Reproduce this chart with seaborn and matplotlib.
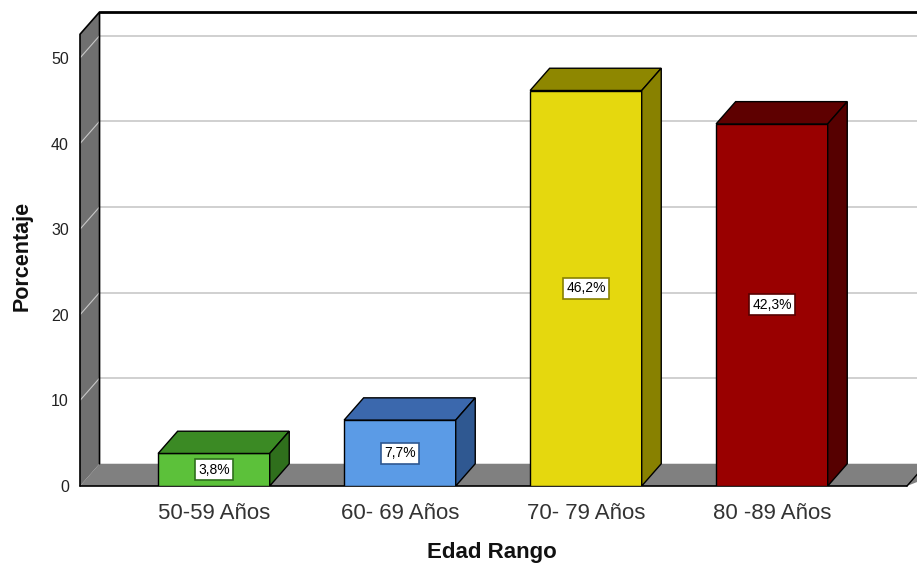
import matplotlib
matplotlib.use("Agg")
import matplotlib.pyplot as plt
import seaborn as sns
import pandas as pd

# Age groups and their share of the sample (%)
categories = ["50-59 Años", "60- 69 Años", "70- 79 Años", "80 -89 Años"]
percentages = [3.8, 7.7, 46.2, 42.3]
value_labels = ["3,8%", "7,7%", "46,2%", "42,3%"]
y_ticks = [0, 10, 20, 30, 40, 50]

# Face colours of each 3D bar: front, top, side
front_colors = ["#5cc13a", "#5b9be6", "#e5d80e", "#990000"]
top_colors = ["#3b8a24", "#3b68ad", "#8e8700", "#5e0000"]
side_colors = ["#2f6f1c", "#2f5891", "#888100", "#560000"]

sns.set_theme(style="white")
plt.rcParams["font.family"] = ["Liberation Sans", "DejaVu Sans"]

fig = plt.figure(figsize=(9.17, 5.66), dpi=100)
ax = fig.add_axes([80 / 917, 80 / 566, 837 / 917, 474 / 566])

df = pd.DataFrame({"Edad Rango": categories, "Porcentaje": percentages})
sns.barplot(data=df, x="Edad Rango", y="Porcentaje", hue="Edad Rango",
            palette=front_colors, saturation=1, width=0.6, edgecolor="black",
            linewidth=1.0, legend=False, ax=ax, zorder=5)

# Depth of the box (data units)
dx, dy = 0.105, 2.6
x0 = -0.72
x_floor_end = 3.726
ytop = 55.37
ax.set_xlim(x0, 3.78)
ax.set_ylim(0, ytop)

# Back-wall gridlines and their traces across the left wall
for v in y_ticks[1:]:
    ax.plot([x0 + dx, 4.0], [v + dy, v + dy], color="#c8c8c8", lw=1.2,
            zorder=1, clip_on=False)
    ax.plot([x0, x0 + dx], [v, v + dy], color="#c8c8c8", lw=0.8,
            zorder=3, clip_on=False)

# Floor slab
ax.fill([x0, x0 + dx, x_floor_end + dx + 0.2, x_floor_end],
        [0, dy, dy, 0], color="#808080", zorder=2, clip_on=False, lw=0)
ax.plot([x0, x_floor_end], [0, 0], color="black", lw=1.2, zorder=4, clip_on=False)
ax.plot([x_floor_end, x_floor_end + dx], [0, dy], color="black", lw=1.0,
        zorder=4, clip_on=False)

# Left wall
ax.fill([x0, x0 + dx, x0 + dx, x0], [0, dy, ytop, ytop - dy],
        color="#707070", zorder=2, clip_on=False, lw=0)
ax.plot([x0, x0, x0 + dx, x0 + dx, x0 + dx],
        [0, ytop - dy, ytop, dy, dy], color="black", lw=1.2, zorder=4,
        clip_on=False)
ax.plot([x0 + dx, 4.0], [ytop, ytop], color="black", lw=2.0, zorder=4,
        clip_on=False)

# Tops and sides of the bars, built from the drawn bar patches
for i, patch in enumerate(ax.patches[:len(percentages)]):
    bx, bw, bh = patch.get_x(), patch.get_width(), patch.get_height()
    ax.fill([bx, bx + dx, bx + bw + dx, bx + bw], [bh, bh + dy, bh + dy, bh],
            facecolor=top_colors[i], edgecolor="black", lw=1.0, zorder=5)
    ax.fill([bx + bw, bx + bw + dx, bx + bw + dx, bx + bw],
            [0, dy, bh + dy, bh],
            facecolor=side_colors[i], edgecolor="black", lw=1.0, zorder=5)
    ax.text(bx + bw / 2, bh / 2, value_labels[i], ha="center", va="center",
            fontsize=10, color="black", zorder=7,
            bbox=dict(boxstyle="square,pad=0.25", facecolor="white",
                      edgecolor=side_colors[i], lw=1.2))

for s in ax.spines.values():
    s.set_visible(False)
ax.set_yticks(y_ticks)
ax.set_yticklabels([str(v) for v in y_ticks], fontsize=11.5, color="#222222")
ax.tick_params(axis="y", length=0, pad=8)
ax.tick_params(axis="x", length=0, pad=12, labelsize=16, labelcolor="#333333")

ax.set_xlabel("Edad Rango", fontsize=16, fontweight="bold", color="#111111",
              va="center")
ax.set_ylabel("Porcentaje", fontsize=15.5, fontweight="bold", color="#111111",
              va="center")
ax.xaxis.set_label_coords(0.492, -0.141)
ax.yaxis.set_label_coords(-0.069, 0.485)
ax.grid(False)

fig.savefig("out.png", dpi=100)
